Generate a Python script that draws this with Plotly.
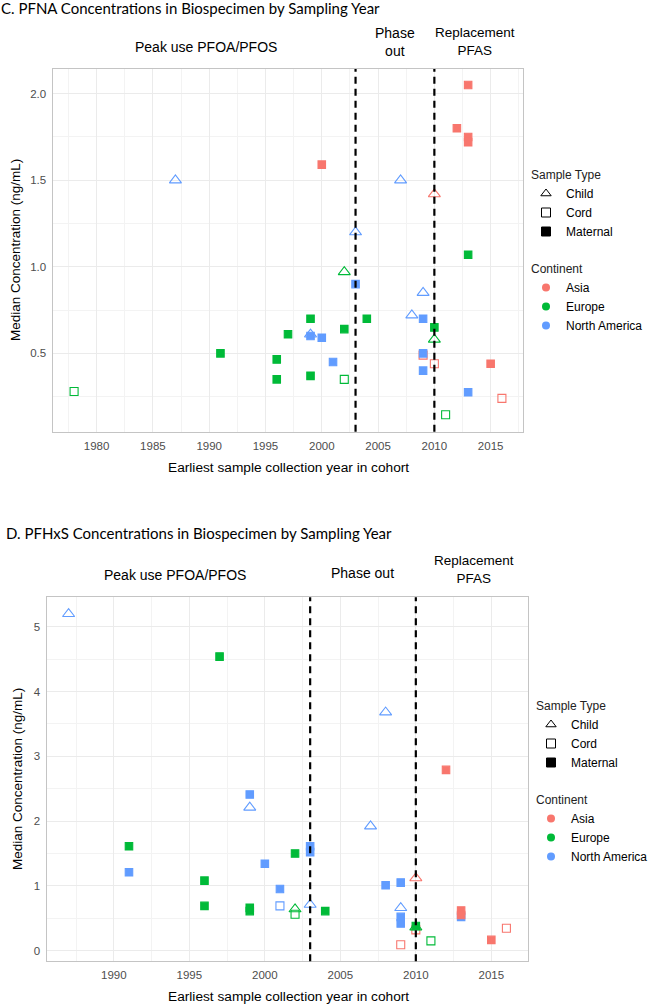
import plotly.graph_objects as go

# ---- data ----
# C. PFNA
pfna_year = [1978, 1987, 1991, 1996, 1996, 1997, 1999, 1999, 1999, 1999,
             2000, 2000, 2001, 2002, 2002, 2002, 2003, 2003, 2004, 2007,
             2008, 2009, 2009, 2009, 2009, 2009, 2010, 2010, 2010, 2010,
             2011, 2012, 2013, 2013, 2013, 2013, 2013, 2015, 2016]
pfna_conc = [0.28, 1.50, 0.50, 0.465, 0.35, 0.61, 0.70, 0.37, 0.60, 0.61,
             0.59, 1.59, 0.45, 0.97, 0.64, 0.35, 0.90, 1.20, 0.70, 1.50,
             0.72, 0.85, 0.70, 0.49, 0.50, 0.40, 0.65, 0.58, 0.44, 1.42,
             0.145, 1.80, 2.05, 1.75, 1.72, 1.07, 0.275, 0.44, 0.24]
pfna_continent = ["Europe", "North America", "Europe", "Europe", "Europe", "Europe", "Europe", "Europe", "North America", "North America",
                  "North America", "Asia", "North America", "Europe", "Europe", "Europe", "North America", "North America", "Europe", "North America",
                  "North America", "North America", "North America", "Asia", "North America", "North America", "Europe", "Europe", "Asia", "Asia",
                  "Europe", "Asia", "Asia", "Asia", "Asia", "Europe", "North America", "Asia", "Asia"]
pfna_type = ["Cord", "Child", "Maternal", "Maternal", "Maternal", "Maternal", "Maternal", "Maternal", "Maternal", "Child",
             "Maternal", "Maternal", "Maternal", "Child", "Maternal", "Cord", "Maternal", "Child", "Maternal", "Child",
             "Child", "Child", "Maternal", "Cord", "Maternal", "Maternal", "Maternal", "Child", "Cord", "Child",
             "Cord", "Maternal", "Maternal", "Maternal", "Maternal", "Maternal", "Maternal", "Maternal", "Cord"]

# D. PFHxS
pfhxs_year = [1987, 1991, 1991, 1996, 1996, 1997, 1999, 1999, 1999, 1999,
              2000, 2001, 2001, 2002, 2002, 2002, 2003, 2003, 2003, 2004,
              2007, 2008, 2008, 2009, 2009, 2009, 2009, 2009, 2010, 2010,
              2010, 2010, 2011, 2012, 2013, 2013, 2013, 2015, 2016]
pfhxs_conc = [5.20, 1.61, 1.21, 1.08, 0.69, 4.54, 2.41, 2.21, 0.66, 0.61,
              1.34, 0.95, 0.69, 1.50, 0.64, 0.56, 1.61, 1.52, 0.71, 0.61,
              1.92, 3.68, 1.01, 1.05, 0.66, 0.52, 0.42, 0.09, 1.12, 0.38,
              0.36, 0.32, 0.15, 2.79, 0.62, 0.55, 0.52, 0.165, 0.345]
pfhxs_continent = ["North America", "Europe", "North America", "Europe", "Europe", "Europe", "North America", "North America", "Europe", "Europe",
                   "North America", "North America", "North America", "Europe", "Europe", "Europe", "North America", "North America", "North America", "Europe",
                   "North America", "North America", "North America", "North America", "North America", "North America", "North America", "Asia", "Asia", "Europe",
                   "Europe", "Asia", "Europe", "Asia", "Asia", "Asia", "North America", "Asia", "Asia"]
pfhxs_type = ["Child", "Maternal", "Maternal", "Maternal", "Maternal", "Maternal", "Maternal", "Child", "Maternal", "Maternal",
              "Maternal", "Maternal", "Cord", "Maternal", "Child", "Cord", "Maternal", "Maternal", "Child", "Maternal",
              "Child", "Child", "Maternal", "Maternal", "Child", "Maternal", "Maternal", "Cord", "Child", "Maternal",
              "Child", "Cord", "Cord", "Maternal", "Maternal", "Maternal", "Maternal", "Maternal", "Cord"]

period_breaks = [2003, 2010]
sample_types = ["Child", "Cord", "Maternal"]
continents = ["Asia", "Europe", "North America"]

colors = {"Asia": "#F8766D", "Europe": "#00BA38", "North America": "#619CFF"}
symbols = {"Child": "triangle-up-open", "Cord": "square-open", "Maternal": "square"}
sizes = {"Child": 10.5, "Cord": 8, "Maternal": 7.5}

W, H = 650, 1005
SANS = "Liberation Sans, Arial"
TITLE_FONT = "Lato, Noto Sans"


def px(x0, x1):
    return [x0 / W, x1 / W]


def py(top, bottom):
    return [1 - bottom / H, 1 - top / H]


fig = go.Figure()

panels = [
    ("x", "y", "legend", pfna_year, pfna_conc, pfna_continent, pfna_type),
    ("x2", "y2", "legend2", pfhxs_year, pfhxs_conc, pfhxs_continent, pfhxs_type),
]

draw_order = [("Cord", c) for c in ["North America", "Europe", "Asia"]] + \
             [("Child", c) for c in ["North America", "Europe", "Asia"]] + \
             [("Maternal", c) for c in ["North America", "Europe", "Asia"]]

for xa, ya, lg, yrs, conc, cont, typ in panels:
    for st, ct in draw_order:
        xs = [yrs[i] for i in range(len(yrs)) if typ[i] == st and cont[i] == ct]
        ys = [conc[i] for i in range(len(yrs)) if typ[i] == st and cont[i] == ct]
        if not xs:
            continue
        fig.add_trace(go.Scatter(
            x=xs, y=ys, mode="markers", xaxis=xa, yaxis=ya, showlegend=False,
            marker=dict(symbol=symbols[st], size=sizes[st], color=colors[ct],
                        line=dict(width=1.1, color=colors[ct])),
            hovertemplate=ct + " / " + st + ": %{x}, %{y}<extra></extra>"))

    # legend entries
    for st in sample_types:
        fig.add_trace(go.Scatter(
            x=[None], y=[None], mode="markers", xaxis=xa, yaxis=ya, name=st,
            legend=lg, legendgroup="type", legendgrouptitle_text="Sample Type",
            marker=dict(symbol=symbols[st], size=9, color="black",
                        line=dict(width=1, color="black"))))
    for ct in continents:
        fig.add_trace(go.Scatter(
            x=[None], y=[None], mode="markers", xaxis=xa, yaxis=ya, name=ct,
            legend=lg, legendgroup="cont", legendgrouptitle_text="Continent",
            marker=dict(symbol="circle", size=8, color=colors[ct])))

    for b in period_breaks:
        fig.add_shape(type="line", xref=xa, yref=ya + " domain", x0=b, x1=b, y0=0, y1=1,
                      line=dict(color="black", width=2.2, dash="7px,5px"))

axis_common = dict(showline=True, mirror=True, linecolor="#C4C4C4", linewidth=1.4,
                   showgrid=True, gridcolor="#EBEBEB", gridwidth=1, zeroline=False,
                   ticks="", ticklen=0, ticklabelstandoff=3,
                   tickfont=dict(family=SANS, size=11.5, color="#4D4D4D"))

legend_common = dict(xanchor="left", yanchor="top",
                     font=dict(family=SANS, size=12, color="black"),
                     grouptitlefont=dict(family=SANS, size=12, color="#222"),
                     tracegroupgap=18, bgcolor="rgba(0,0,0,0)")

fig.update_layout(
    width=W, height=H, margin=dict(l=0, r=0, t=0, b=0, autoexpand=False),
    paper_bgcolor="white", plot_bgcolor="white",
    xaxis=dict(domain=px(52.7, 523.3), anchor="y", range=[1976.1, 2017.9], dtick=5,
               minor=dict(dtick=2.5, showgrid=True, gridcolor="#F3F3F3"), **axis_common),
    yaxis=dict(domain=py(69, 431.7), anchor="x", range=[0.0475, 2.1425], dtick=0.5,
               tickformat=".1f",
               minor=dict(dtick=0.25, showgrid=True, gridcolor="#F3F3F3"), **axis_common),
    xaxis2=dict(domain=px(46.7, 528.3), anchor="y2", range=[1985.55, 2017.45], dtick=5,
                minor=dict(dtick=2.5, showgrid=True, gridcolor="#F3F3F3"), **axis_common),
    yaxis2=dict(domain=py(597.3, 961.3), anchor="x2", range=[-0.1655, 5.4555], dtick=1,
                minor=dict(dtick=0.5, showgrid=True, gridcolor="#F3F3F3"), **axis_common),
    legend=dict(x=526 / W, y=1 - 160 / H, **legend_common),
    legend2=dict(x=531 / W, y=1 - 691 / H, **legend_common),
)

ann = []


def text(x, y, s, size=13, family=SANS, anchor="center", angle=0, color="black"):
    ann.append(dict(x=x / W, y=1 - y / H, xref="paper", yref="paper", text=s,
                    showarrow=False, xanchor=anchor, yanchor="middle", textangle=angle,
                    font=dict(family=family, size=size, color=color)))


# panel titles
text(-1, 8.5, "C. PFNA Concentrations in Biospecimen by Sampling Year", size=15,
     family=TITLE_FONT, anchor="left")
text(4, 533, "D. PFHxS Concentrations in Biospecimen by Sampling Year", size=15,
     family=TITLE_FONT, anchor="left")

# period labels
text(206, 47, "Peak use PFOA/PFOS", size=14)
text(395, 42, "Phase<br>out", size=14)
text(475, 41, "Replacement<br>PFAS", size=13.5)
text(175, 575, "Peak use PFOA/PFOS", size=14)
text(362, 573, "Phase out", size=14)
text(474, 569, "Replacement<br>PFAS", size=13.5)

# axis titles
text(16, 250, "Median Concentration (ng/mL)", size=13.5, angle=-90)
text(288, 468, "Earliest sample collection year in cohort", size=13.7)
text(17, 779, "Median Concentration (ng/mL)", size=13.5, angle=-90)
text(288, 996, "Earliest sample collection year in cohort", size=13.7)

fig.update_layout(annotations=ann)

fig.write_html("out.html", config={"displayModeBar": False},
               post_script="document.body.style.margin='0';")
